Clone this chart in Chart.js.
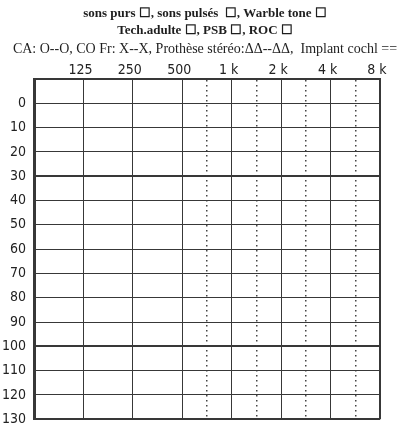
<!DOCTYPE html>
<html>
<head>
<meta charset="utf-8">
<script src="https://cdn.jsdelivr.net/npm/chart.js@4"></script>
<style>
  html, body { margin: 0; padding: 0; background: #fff; }
  #wrap { width: 410px; height: 428px; }
</style>
</head>
<body>
<div id="wrap"><canvas id="audiogram"></canvas></div>
<script>
// octave index: -1 = left edge, 0 = 125 Hz ... 6 = 8 kHz
const freqLabels   = ['125', '250', '500', '1 k', '2 k', '4 k', '8 k'];
const dottedSteps  = [2.5, 3.5, 4.5, 5.5];   // 750, 1.5k, 3k, 6k
const thickDb      = [-10, 30, 100, 130];
const headerBold   = ['sons purs \u2610, sons pulsés  \u2610, Warble tone \u2610', 'Tech.adulte \u2610, PSB \u2610, ROC \u2610'];
const headerLegend = 'CA: O--O, CO Fr: X--X, Prothèse stéréo:\u0394\u0394--\u0394\u0394,  Implant cochl ==';
// no thresholds on this blank form
const caPoints = [];

const ink = '#383838';
const serif = "'Liberation Serif', 'DejaVu Serif', serif";
const narrow = "'Liberation Sans Narrow', 'DejaVu Sans Condensed', 'Liberation Sans', sans-serif";

const ctx = document.getElementById('audiogram').getContext('2d');
new Chart(ctx, {
  type: 'scatter',
  data: {
    datasets: [{ label: 'CA', data: caPoints, borderColor: ink, pointStyle: 'circle' }]
  },
  options: {
    responsive: true,
    maintainAspectRatio: false,
    animation: false,
    layout: { padding: 0 },
    plugins: {
      legend: { display: false },
      tooltip: { enabled: false },
      title: {
        display: true, text: headerBold, color: '#1e1e1e',
        font: { family: serif, size: 13, weight: 'bold', lineHeight: 1.25 },
        padding: { top: 6, bottom: 0 }
      },
      subtitle: {
        display: true, text: headerLegend, color: '#1e1e1e',
        font: { family: serif, size: 14, weight: 'normal', lineHeight: 1.3 },
        padding: { top: 2, bottom: 0 }
      }
    },
    scales: {
      x: {
        type: 'linear', position: 'top', min: -1, max: 6,
        afterFit: s => { s.height = 20.3; },
        ticks: {
          stepSize: 0.5, autoSkip: false, maxRotation: 0, padding: 0, labelOffset: -3,
          color: '#222', font: { family: narrow, size: 14 },
          callback: v => (Number.isInteger(v) && v >= 0) ? freqLabels[v] : ''
        },
        grid: {
          drawTicks: false,
          color: c => {
            const v = c.tick ? c.tick.value : 0;
            if (dottedSteps.includes(v)) return '#444';
            return Number.isInteger(v) ? ink : 'rgba(0,0,0,0)';
          },
          lineWidth: c => {
            const v = c.tick ? c.tick.value : 0;
            if (v === 6) return 2;
            return dottedSteps.includes(v) ? 1.5 : 1;
          }
        },
        border: {
          color: ink, width: 2,
          dash: c => (c.tick && dottedSteps.includes(c.tick.value)) ? [1.5, 3.5] : []
        }
      },
      y: {
        type: 'linear', reverse: true, min: -10, max: 130,
        afterFit: s => { s.width = 34; },
        ticks: {
          stepSize: 10, padding: 8, color: '#222',
          // small lineHeight keeps the bottom "130" from pushing the grid up
          font: { family: narrow, size: 14, lineHeight: 0.1 },
          callback: v => v < 0 ? '' : v
        },
        grid: {
          drawTicks: false, color: ink,
          lineWidth: c => (c.tick && thickDb.includes(c.tick.value)) ? 2 : 1
        },
        border: { color: ink, width: 3 }
      },
      // empty right-hand margin of the form
      yRight: {
        type: 'linear', position: 'right', min: -10, max: 130,
        afterFit: s => { s.width = 30; },
        ticks: { display: false },
        grid: { display: false },
        border: { display: false }
      }
    }
  }
});
</script>
</body>
</html>
